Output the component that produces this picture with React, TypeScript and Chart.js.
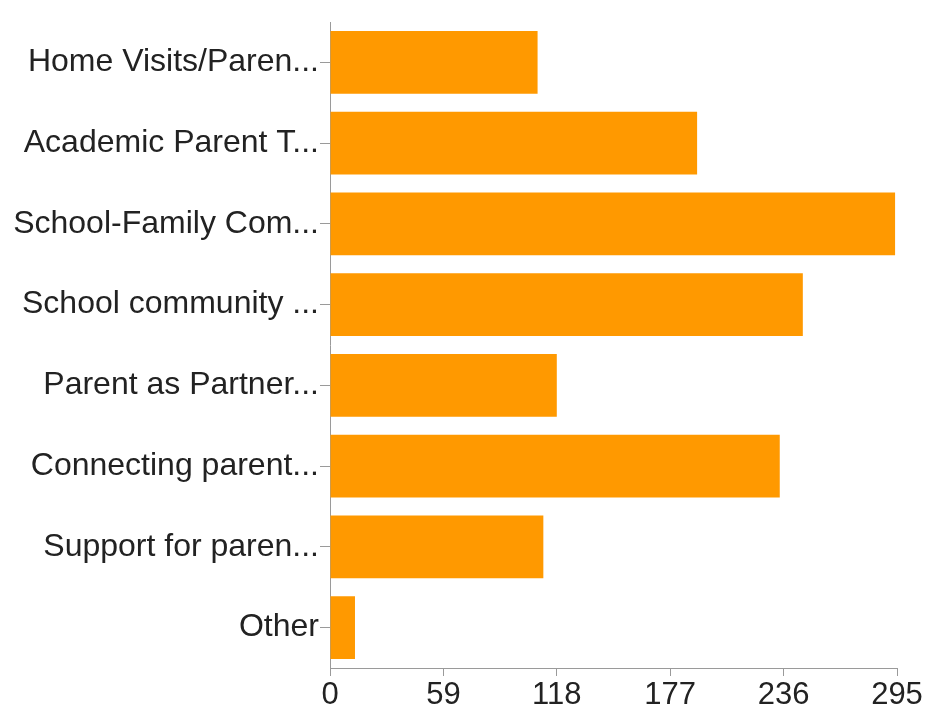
import React, { useEffect, useRef } from "react";
import { Chart, registerables } from "chart.js";

Chart.register(...registerables);

const categories = [
  "Home Visits/Paren...",
  "Academic Parent T...",
  "School-Family Com...",
  "School community ...",
  "Parent as Partner...",
  "Connecting parent...",
  "Support for paren...",
  "Other",
];
const counts = [108, 191, 294, 246, 118, 234, 111, 13];
const xMax = 295;
const xStep = 59;

const FONT = "'Liberation Sans', Arial, Helvetica, sans-serif";
const AXIS = "#9a9a9a";
const TEXT = "#222222";

export default function App() {
  const ref = useRef<HTMLCanvasElement | null>(null);
  useEffect(() => {
    if (!ref.current) return;
    const chart = new Chart(ref.current, {
      type: "bar",
      data: {
        labels: categories,
        datasets: [
          {
            data: counts,
            backgroundColor: "#FF9900",
            borderWidth: 0,
            barPercentage: 0.78,
            categoryPercentage: 1,
          },
        ],
      },
      options: {
        indexAxis: "y",
        animation: false,
        responsive: false,
        maintainAspectRatio: false,
        layout: { padding: { top: 22, right: 29, bottom: 0, left: 0 } },
        plugins: { legend: { display: false }, tooltip: { enabled: false } },
        scales: {
          x: {
            min: 0,
            max: xMax,
            ticks: {
              stepSize: xStep,
              color: TEXT,
              font: { family: FONT, size: 31 },
              padding: 1,
              maxRotation: 0,
            },
            grid: {
              display: true,
              drawOnChartArea: false,
              drawTicks: true,
              tickLength: 8,
              color: AXIS,
            },
            border: { display: true, color: AXIS, width: 1 },
            afterFit: (scale: any) => {
              scale.height = 48;
              scale.paddingLeft = 0;
              scale.paddingRight = 0;
            },
          },
          y: {
            ticks: {
              color: TEXT,
              font: { family: FONT, size: 32 },
              padding: 1,
              autoSkip: false,
            },
            grid: {
              display: true,
              offset: false,
              drawOnChartArea: false,
              drawTicks: true,
              tickLength: 10,
              color: AXIS,
            },
            border: { display: true, color: AXIS, width: 1 },
            afterFit: (scale: any) => {
              scale.width = 330;
              scale.paddingTop = 0;
              scale.paddingBottom = 0;
            },
          },
        },
      },
    });
    return () => chart.destroy();
  }, []);
  return (
    <div style={{ position: "absolute", left: 0, top: 0, width: 926, height: 716, background: "#fff" }}>
      <canvas ref={ref} width={926} height={716} style={{ width: 926, height: 716, display: "block" }} />
    </div>
  );
}
